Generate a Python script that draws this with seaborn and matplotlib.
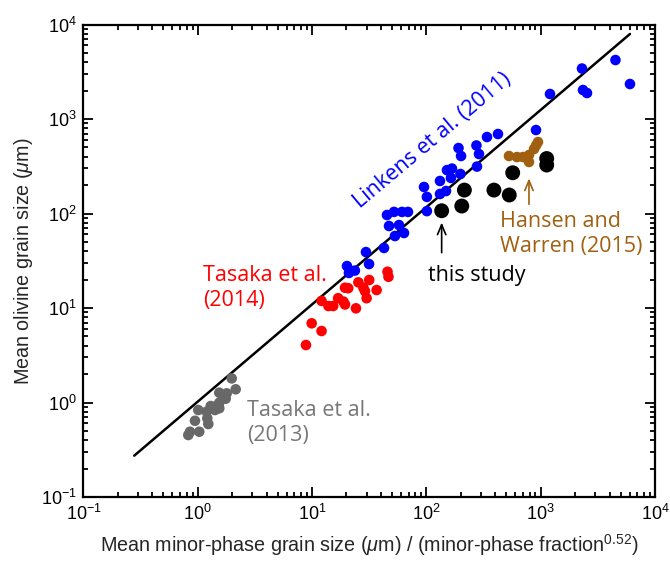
import numpy as np
import pandas as pd
import matplotlib
matplotlib.use("Agg")
import matplotlib.pyplot as plt
import seaborn as sns

# Tasaka et al. (2013) - gray
gray_x = [0.826, 0.855, 1.03, 0.945, 1.236, 1.211, 1.01, 1.196, 1.297, 1.414,
          1.464, 1.542, 1.542, 1.754, 1.79, 1.542, 2.146, 1.98]
gray_y = [0.453, 0.491, 0.491, 0.641, 0.592, 0.681, 0.833, 0.80, 0.918, 0.833,
          0.918, 0.869, 0.995, 1.097, 1.25, 1.27, 1.38, 1.80]

# Tasaka et al. (2014) - red
red_x = [8.84, 9.92, 12.1, 12.1, 13.9, 15.3, 16.9, 18.8, 19.4, 24.2,
         19.4, 20.7, 25.4, 28.1, 29.0, 31.6, 30.0, 36.7, 45.7, 46.6]
red_y = [4.06, 6.89, 5.71, 11.9, 10.5, 10.5, 12.7, 11.7, 10.9, 9.93,
         16.4, 16.2, 18.7, 16.4, 15.1, 19.8, 12.7, 15.5, 24.2, 21.4]

# Linkens et al. (2011) - blue
blue_x = [20.2, 21.0, 23.7, 31.5, 29.6, 42.6, 53.1, 63.7, 47.1, 57.6,
          45.2, 52.1, 61.2, 69.0, 95.3, 101, 101, 131.5, 131.5, 148.5,
          151.4, 167.5, 164, 198.6, 191, 201, 274, 288.5, 277, 339,
          423, 910, 1206, 2297, 2345, 2542, 4510, 6040]
blue_y = [27.8, 23.5, 24.9, 29.2, 39.1, 43.2, 57.8, 62.2, 73.8, 75.5,
          96.4, 104, 104, 104, 191, 150, 106, 221, 161, 173,
          288, 299, 238, 262, 493, 406, 525, 426, 314, 645,
          694, 765, 1840, 3423, 2027, 1884, 4210, 2346]

# this study - black
black_x = [136, 204, 215, 390, 531, 569, 1129, 1129]
black_y = [107, 120, 177, 177, 157, 270, 382, 326]

# Hansen and Warren (2015) - brown
brown_x = [528, 620, 700, 790, 790, 874, 910, 947]
brown_y = [406, 396, 396, 416, 351, 481, 525, 571]

# reference line
line_x = [0.278, 6040]
line_y = [0.274, 7940]

sns.set_theme(style="ticks")
plt.rcParams["font.family"] = ["Liberation Sans", "DejaVu Sans"]
plt.rcParams["mathtext.fontset"] = "custom"
plt.rcParams["mathtext.rm"] = "Liberation Sans"
plt.rcParams["mathtext.it"] = "Liberation Sans:italic"
plt.rcParams["mathtext.bf"] = "Liberation Sans:bold"

fig, ax = plt.subplots(figsize=(6.7, 5.69), dpi=100)
fig.subplots_adjust(left=0.1246, right=0.9776, bottom=0.1265, top=0.9569)

sns.lineplot(x=line_x, y=line_y, ax=ax, color="black", lw=1.8)

groups = [
    (gray_x, gray_y, "#686868", 58),
    (red_x, red_y, "#ff0000", 58),
    (blue_x, blue_y, "#0000ff", 58),
    (brown_x, brown_y, "#a0600f", 58),
    (black_x, black_y, "black", 115),
]
for gx, gy, col, s in groups:
    df = pd.DataFrame({"x": gx, "y": gy})
    sns.scatterplot(data=df, x="x", y="y", ax=ax, color=col, s=s,
                    edgecolor="none", zorder=3)

ax.set_xscale("log")
ax.set_yscale("log")
ax.set_xlim(0.1, 1e4)
ax.set_ylim(0.1, 1e4)

ax.tick_params(which="both", direction="in", top=True, right=True,
               labelsize=13, width=1.3, colors="black")
ax.tick_params(which="major", length=7, pad=5)
ax.tick_params(which="minor", length=3.6)
for sp in ax.spines.values():
    sp.set_linewidth(1.6)
    sp.set_color("black")

ax.set_xlabel(r"Mean minor-phase grain size ($\mu$m) / (minor-phase fraction$^{0.52}$)",
              fontsize=14.2, labelpad=6)
ax.set_ylabel(r"Mean olivine grain size ($\mu$m)", fontsize=14.2, labelpad=4)

afont = ["Open Sans", "DejaVu Sans"]
ax.text(0.209, 0.442, "Tasaka et al.\n(2014)", transform=ax.transAxes,
        color="#ff0000", fontsize=15.5, family=afont, ha="left", va="center",
        linespacing=1.25)
ax.text(0.286, 0.157, "Tasaka et al.\n(2013)", transform=ax.transAxes,
        color="#777777", fontsize=15.5, family=afont, ha="left", va="center",
        linespacing=1.25)
ax.text(0.603, 0.468, "this study", transform=ax.transAxes,
        color="black", fontsize=15.5, family=afont, ha="left", va="center")
ax.text(0.729, 0.557, "Hansen and\nWarren (2015)", transform=ax.transAxes,
        color="#a0600f", fontsize=15.5, family=afont, ha="left", va="center",
        linespacing=1.25)
ax.text(0.611, 0.755, "Linkens et al. (2011)", transform=ax.transAxes,
        color="#0000ff", fontsize=15.5, family=afont, ha="center", va="center",
        rotation=40, rotation_mode="anchor")

ax.annotate("", xy=(136, 86), xytext=(136, 36),
            arrowprops=dict(arrowstyle="->,head_length=0.6,head_width=0.25",
                            color="black", lw=1.2))
ax.annotate("", xy=(790, 252), xytext=(790, 117),
            arrowprops=dict(arrowstyle="->,head_length=0.6,head_width=0.25",
                            color="#a0600f", lw=1.2))

fig.savefig("out.png", dpi=100)
